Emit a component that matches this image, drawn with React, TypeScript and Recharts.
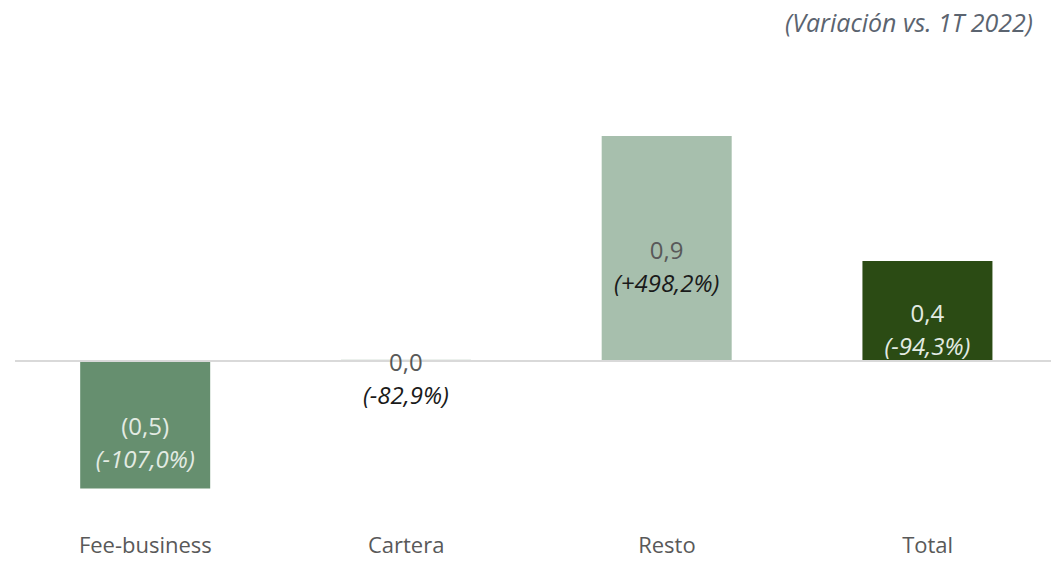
import { Bar, BarChart, Cell, LabelList, ReferenceLine, XAxis, YAxis } from "recharts";

const categories = ["Fee-business", "Cartera", "Resto", "Total"];
const values = [-0.51, 0.005, 0.9, 0.4];
const valueLabels = ["(0,5)", "0,0", "0,9", "0,4"];
const changeLabels = ["(-107,0%)", "(-82,9%)", "(+498,2%)", "(-94,3%)"];
const barColors = ["#668f6f", "#b3c7b7", "#a7bfad", "#2b4b14"];
const valueColors = ["#e3ebe3", "#595959", "#595959", "#e3ebe3"];
const changeColors = ["#e3ebe3", "#1a1a1a", "#1a1a1a", "#e3ebe3"];

const rows = categories.map((name, i) => ({ name, value: values[i] }));

const FONT = "'Open Sans', 'Noto Sans', sans-serif";

function TwoLineLabel(props: any) {
  const { x, y, width, height, index } = props;
  const cx = Number(x) + Number(width) / 2;
  const cy = Number(y) + Number(height) / 2;
  return (
    <g>
      <text
        x={cx}
        y={cy + 1}
        textAnchor="middle"
        dominantBaseline="central"
        fontFamily={FONT}
        fontSize={24}
        fill={valueColors[index]}
      >
        {valueLabels[index]}
      </text>
      <text
        x={cx}
        y={cy + 34}
        textAnchor="middle"
        dominantBaseline="central"
        fontFamily={FONT}
        fontSize={24}
        fontStyle="italic"
        fill={changeColors[index]}
      >
        {changeLabels[index]}
      </text>
    </g>
  );
}

export default function App() {
  return (
    <div
      style={{
        position: "absolute",
        left: 0,
        top: 0,
        width: 1051,
        height: 562,
        overflow: "hidden",
        background: "#fff",
      }}
    >
      <div
        style={{
          position: "absolute",
          right: 18,
          top: 5,
          fontFamily: FONT,
          fontSize: 25,
          fontStyle: "italic",
          color: "#5b6470",
        }}
      >
        (Variación vs. 1T 2022)
      </div>
      <BarChart
        width={1060}
        height={562}
        data={rows}
        margin={{ top: 111, right: 2, bottom: 21, left: 15 }}
        barCategoryGap="25%"
      >
        <YAxis hide domain={[-0.6, 1.0]} />
        <XAxis
          dataKey="name"
          axisLine={false}
          tickLine={false}
          tick={{ fill: "#595959", fontSize: 22, fontFamily: FONT }}
          tickMargin={20}
        />
        <ReferenceLine y={0} stroke="#d9d9d9" strokeWidth={2} />
        <Bar dataKey="value" isAnimationActive={false}>
          {rows.map((row, i) => (
            <Cell key={row.name} fill={barColors[i]} />
          ))}
          <LabelList dataKey="value" content={TwoLineLabel} />
        </Bar>
      </BarChart>
    </div>
  );
}
